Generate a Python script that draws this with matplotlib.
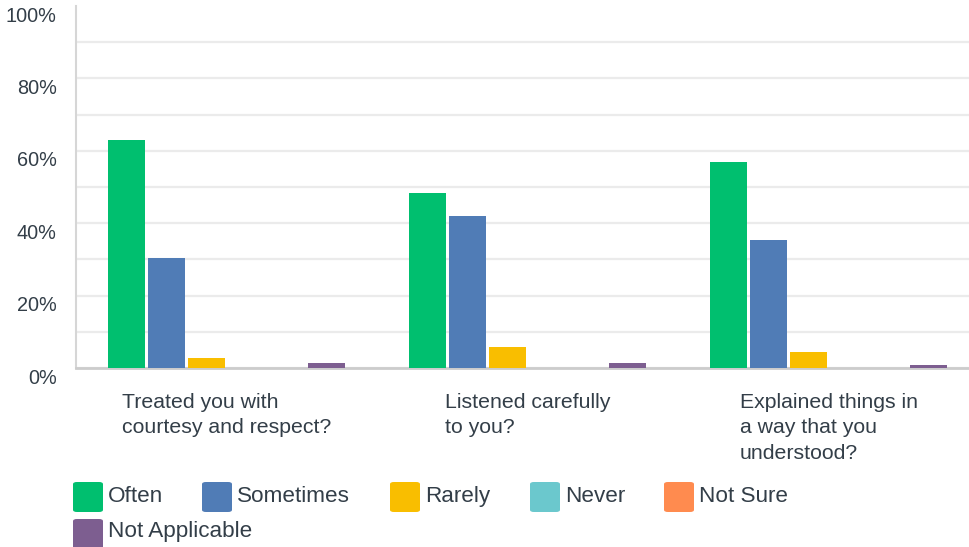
import matplotlib
matplotlib.use("Agg")
import matplotlib.pyplot as plt
import matplotlib.ticker as mticker
import matplotlib.transforms as mtransforms
from matplotlib.patches import FancyBboxPatch
import numpy as np

plt.rcParams['font.family'] = ['Liberation Sans', 'DejaVu Sans']

questions = ["Treated you with\ncourtesy and respect?",
             "Listened carefully\nto you?",
             "Explained things in\na way that you\nunderstood?"]
answers = ["Often", "Sometimes", "Rarely", "Never", "Not Sure", "Not Applicable"]
often = [63.0, 48.3, 56.9]
sometimes = [30.5, 42.0, 35.4]
rarely = [2.8, 5.9, 4.4]
never = [0.0, 0.0, 0.0]
not_sure = [0.0, 0.0, 0.0]
not_applicable = [1.4, 1.4, 0.8]
colors = ["#00bf6f", "#507cb6", "#f9be00", "#6bc8cd", "#ff8b4f", "#7d5e90"]

series = [often, sometimes, rarely, never, not_sure, not_applicable]
txt = "#333e48"

W, H = 969, 547
fig = plt.figure(figsize=(W / 100, H / 100), dpi=100)
ax = fig.add_axes([76 / W, (H - 368) / H, 903 / W, 362 / H])

x = np.arange(len(questions))
step, bw = 0.133, 0.123
for k, (vals, col) in enumerate(zip(series, colors)):
    ax.bar(x + (k - 2.5) * step, vals, width=bw, color=col, zorder=3)

ax.set_xlim(-0.5, 2.5)
ax.set_ylim(0, 100)
ax.yaxis.set_major_locator(mticker.MultipleLocator(20))
ax.yaxis.set_minor_locator(mticker.MultipleLocator(10))
ax.yaxis.set_major_formatter(mticker.FuncFormatter(lambda v, p: f"{v:.0f}%"))
ax.grid(axis="y", which="both", color="#ebebeb", lw=1.6, zorder=0)
ax.tick_params(axis="y", which="both", length=0, labelsize=14.3, labelcolor=txt, pad=14)
ax.set_xticks([])
for s in ["top", "right"]:
    ax.spines[s].set_visible(False)
ax.spines["left"].set_color("#d6d6d6")
ax.spines["left"].set_linewidth(1.5)
ax.spines["bottom"].set_color("#cccccc")
ax.spines["bottom"].set_linewidth(2)

# no gridline at the very top
fig.canvas.draw()
for tick in ax.yaxis.get_major_ticks():
    if abs(tick.get_loc() - 100) < 1e-6:
        tick.gridline.set_visible(False)

# nudge tick labels down like the original
off = mtransforms.ScaledTranslation(0, -8 / 100, fig.dpi_scale_trans)
for lab in ax.get_yticklabels():
    lab.set_transform(lab.get_transform() + off)

# category labels
down = mtransforms.ScaledTranslation(0, -25 / 100, fig.dpi_scale_trans)
for i, q in enumerate(questions):
    ax.text(i, 0, q, transform=ax.get_xaxis_transform() + down, ha="center", va="top",
            multialignment="left", fontsize=15.3, color=txt, linespacing=1.42)

# legend, placed by hand
leg_pos = [(73, 482), (202, 482), (390, 482), (530, 482), (664, 482), (73, 519)]
for (px, py), name, col in zip(leg_pos, answers, colors):
    fig.patches.append(FancyBboxPatch((px / W, (H - py - 30) / H), 30 / W, 30 / H,
                                      boxstyle="round,pad=0,rounding_size=0.004",
                                      transform=fig.transFigure, color=col, lw=0))
    base = 502 if py < 500 else 537
    fig.text((px + 35) / W, (H - base) / H, name, fontsize=16.2, color=txt,
             ha="left", va="baseline")

fig.savefig("out.png", dpi=100)
